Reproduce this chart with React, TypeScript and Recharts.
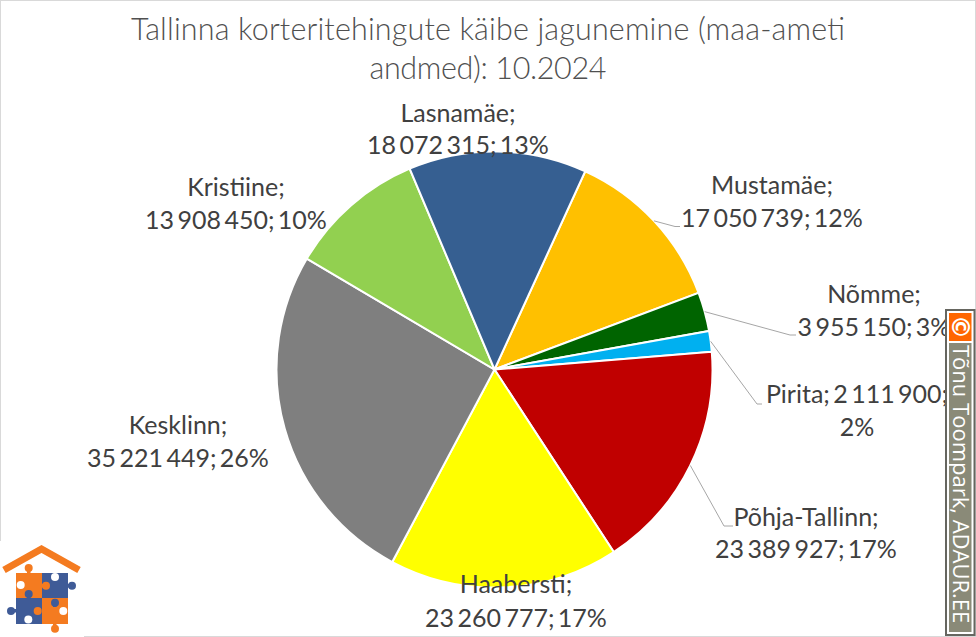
import { PieChart, Pie, Cell } from "recharts";

const districts = ["Mustamäe", "Nõmme", "Pirita", "Põhja-Tallinn", "Haabersti", "Kesklinn", "Kristiine", "Lasnamäe"];
const turnover = [17050739, 3955150, 2111900, 23389927, 23260777, 35221449, 13908450, 18072315];
const colors = ["#FFC000", "#006400", "#00B0F0", "#C00000", "#FFFF00", "#7F7F7F", "#92D050", "#365F91"];

const titleLines = ["Tallinna korteritehingute käibe jagunemine (maa-ameti", "andmed): 10.2024"];

const chartData = districts.map((name, i) => ({ name, value: turnover[i] }));

// label placement per slice: centre x, first and second baseline
const labelPlaces = [
  { x: 772, y1: 194, y2: 227 },
  { x: 874, y1: 303, y2: 336 },
  { x: 857, y1: 403, y2: 436 },
  { x: 806, y1: 526, y2: 558 },
  { x: 516, y1: 593, y2: 627 },
  { x: 178, y1: 434, y2: 467 },
  { x: 236, y1: 196, y2: 229 },
  { x: 458, y1: 122, y2: 154 },
];

// elbow and end of the leader lines, only some slices have one
const leaders: Record<number, number[]> = {
  0: [675, 226.5, 680, 226.5],
  1: [790, 335, 796, 335],
  2: [757, 404, 762, 404],
  3: [724, 526, 733, 526],
};

const FONT = "Lato, 'Open Sans', sans-serif";
const RAD = Math.PI / 180;
const TITLE_WIDTHS = [714, 237];

const fmt = (v: number) => String(v).replace(/\B(?=(\d{3})+$)/g, " ");

function renderLabel(props: any) {
  const { cx, cy, midAngle, outerRadius, index, name, value, percent } = props;
  const place = labelPlaces[index];
  const pct = Math.round(percent * 100) + "%";
  const oneLine = name === "Pirita";
  const first = oneLine ? `${name}; ${fmt(value)};` : `${name};`;
  const second = oneLine ? pct : `${fmt(value)}; ${pct}`;
  const lead = leaders[index];
  const sx = cx + outerRadius * Math.cos(-midAngle * RAD);
  const sy = cy + outerRadius * Math.sin(-midAngle * RAD);
  return (
    <g key={name}>
      {lead && (
        <polyline
          points={`${sx},${sy} ${lead[0]},${lead[1]} ${lead[2]},${lead[3]}`}
          fill="none"
          stroke="#A6A6A6"
          strokeWidth={1}
        />
      )}
      <text x={place.x} y={place.y1} textAnchor="middle" fontFamily={FONT} fontSize={25} wordSpacing={-3} fill="#404040">
        {first}
      </text>
      <text x={place.x} y={place.y2} textAnchor="middle" fontFamily={FONT} fontSize={25} wordSpacing={-3} fill="#404040">
        {second}
      </text>
    </g>
  );
}

function Logo() {
  const orange = "#F47B20";
  const blue = "#3F5B97";
  return (
    <svg width={84} height={96} viewBox="0 541 84 96" style={{ position: "absolute", left: 0, top: 541 }}>
      <rect x={0} y={541} width={84} height={96} fill="#fff" />
      <polyline points="4,570 41.5,549 79,570" fill="none" stroke={orange} strokeWidth={7} />
      <rect x={16} y={573} width={26} height={25} fill={orange} />
      <rect x={42} y={573} width={26} height={25} fill={blue} />
      <rect x={16} y={598} width={26} height={26} fill={blue} />
      <rect x={42} y={598} width={26} height={26} fill={orange} />
      <circle cx={28.7} cy={568} r={4} fill={orange} />
      <circle cx={46} cy={585.7} r={4} fill={orange} />
      <circle cx={37.7} cy={611} r={4} fill={orange} />
      <circle cx={55} cy={628.7} r={4} fill={orange} />
      <circle cx={72} cy={585.7} r={4} fill={blue} />
      <circle cx={28.7} cy={594} r={4} fill={blue} />
      <circle cx={11} cy={611} r={4} fill={blue} />
      <circle cx={55} cy={602.7} r={4} fill={blue} />
      <rect x={27} y={570} width={3.5} height={4} fill={orange} />
      <rect x={41} y={584} width={3} height={3.5} fill={orange} />
      <rect x={67} y={584} width={3} height={3.5} fill={blue} />
      <rect x={27} y={596} width={3.5} height={3} fill={blue} />
      <rect x={14} y={609} width={3} height={3.5} fill={blue} />
      <rect x={53} y={604} width={3.5} height={3} fill={blue} />
      <rect x={53} y={623} width={3.5} height={3} fill={orange} />
      <circle cx={20.7} cy={585} r={4} fill="#fff" />
      <circle cx={55} cy={577} r={4} fill="#fff" />
      <circle cx={28.3} cy={619.5} r={4} fill="#fff" />
      <circle cx={63.3} cy={611} r={4} fill="#fff" />
    </svg>
  );
}

function Watermark() {
  return (
    <svg width={31} height={328} viewBox="945 309 31 328" style={{ position: "absolute", left: 945, top: 309 }}>
      <rect x={946} y={310} width={28.5} height={325} fill="#fff" stroke="#666660" strokeWidth={2} />
      <rect x={949} y={313} width={22.5} height={28} fill="#FF6600" />
      <rect x={949} y={343} width={22.5} height={289} fill="#8A8A78" />
      <text
        transform="translate(952,327) rotate(90)"
        textAnchor="middle"
        fontFamily="'DejaVu Sans', sans-serif"
        fontSize={24}
        fontWeight="bold"
        fill="#fff"
      >
        ©
      </text>
      <text
        transform="translate(952.5,345) rotate(90)"
        fontFamily="'Open Sans', sans-serif"
        fontSize={22}
        fill="#fff"
      >
        Tõnu Toompark, ADAUR.EE
      </text>
    </svg>
  );
}

export default function App() {
  return (
    <div style={{ position: "absolute", left: 0, top: 0, width: 976, height: 637, background: "#fff", overflow: "hidden" }}>
      <div style={{ position: "absolute", left: 0, top: 0, width: 974, height: 635, border: "1px solid #D9D9D9" }} />
      <svg width={976} height={100} style={{ position: "absolute", left: 0, top: 0 }}>
        {titleLines.map((line, i) => (
          <text
            key={line}
            x={488}
            y={40 + i * 39}
            textAnchor="middle"
            textLength={TITLE_WIDTHS[i]}
            fontFamily={FONT}
            fontWeight={300}
            fontSize={30.5}
            fill="#505050"
          >
            {line}
          </text>
        ))}
      </svg>
      <div style={{ position: "absolute", left: 0, top: 0 }}>
        <PieChart width={976} height={637} margin={{ top: 0, right: 0, bottom: 0, left: 0 }}>
          <Pie
            data={chartData}
            dataKey="value"
            nameKey="name"
            cx={494.5}
            cy={369.5}
            outerRadius={218}
            startAngle={65.4}
            endAngle={-294.6}
            stroke="#fff"
            strokeWidth={2}
            label={renderLabel}
            labelLine={false}
            isAnimationActive={false}
          >
            {chartData.map((d, i) => (
              <Cell key={d.name} fill={colors[i]} />
            ))}
          </Pie>
        </PieChart>
      </div>
      <Logo />
      <Watermark />
    </div>
  );
}
